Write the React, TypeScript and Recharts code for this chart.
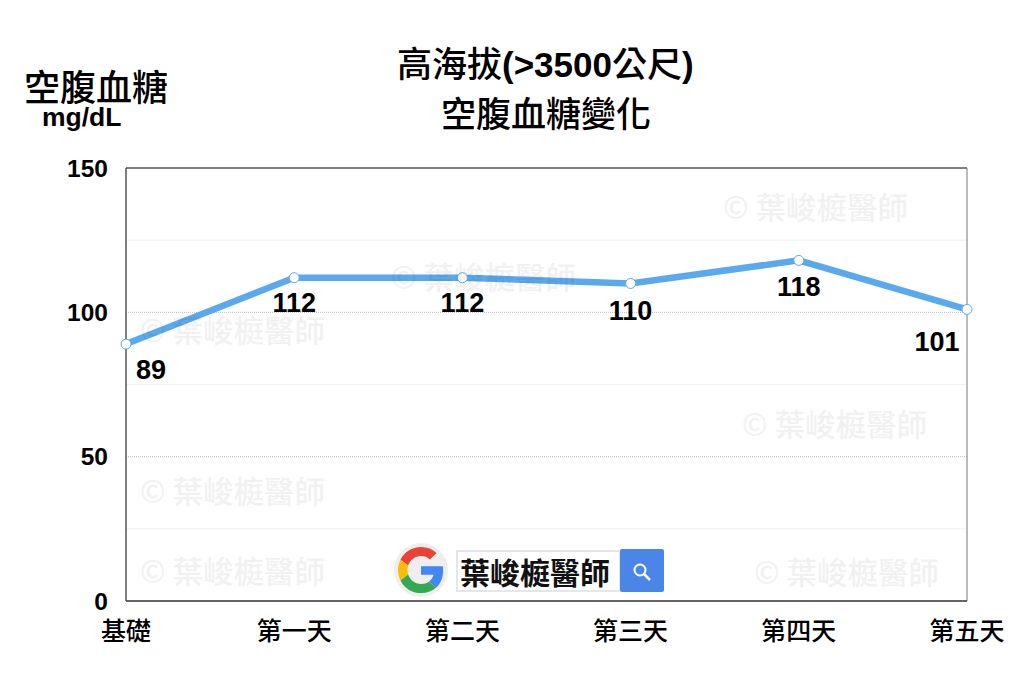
import React from "react";
import { LineChart, Line, XAxis, YAxis, ReferenceLine, LabelList } from "recharts";

const categories = ["基礎", "第一天", "第二天", "第三天", "第四天", "第五天"];
const glucose = [89, 112, 112, 110, 118, 101];
const yTicks = [0, 50, 100, 150];
const dottedLines = [50, 100];
const faintLines = [25, 75, 125];
const labelDx = [25, 0, 0, 0, 0, -30];
const labelDy = [25, 25, 25, 27, 26, 32];
const watermarks: [number, number][] = [
  [723, 191], [391, 261], [140, 314], [742, 408], [140, 475], [140, 555], [754, 556],
];
const watermarkText = "© 葉峻榳醫師";
const titleParts = ["高海拔", "(>3500", "公尺", ")"];
const titleLine2 = "空腹血糖變化";
const yTitle = "空腹血糖";
const yUnit = "mg/dL";
const searchText = "葉峻榳醫師";

const rows = categories.map((name, i) => ({ name, value: glucose[i] }));
const CJK = '"Noto Sans CJK TC", "Noto Sans", sans-serif';
const LATIN = '"Liberation Sans", Arial, sans-serif';

const abs = (left: number, top: number, extra: React.CSSProperties = {}): React.CSSProperties => ({
  position: "absolute", left, top, whiteSpace: "nowrap", lineHeight: 1, ...extra,
});

function PointLabel(props: any) {
  const { x, y, index, value } = props;
  return (
    <text x={x + labelDx[index]} y={y + labelDy[index]} dy="0.36em" textAnchor="middle"
      fontFamily={LATIN} fontWeight={700} fontSize={27} fill="#000">{value}</text>
  );
}

function CatTick(props: any) {
  const { x, y, payload } = props;
  return (
    <text x={x} y={y} dy="0.36em" textAnchor="middle" fontFamily={CJK} fontWeight={500} fontSize={25} fill="#000">
      {payload.value}
    </text>
  );
}

function GoogleBadge() {
  return (
    <svg width={56} height={56} viewBox="0 0 56 56" style={{ position: "absolute", left: 393, top: 542 }}>
      <circle cx="28" cy="28" r="27" fill="#eeeeee" />
      <g transform="translate(5 5) scale(0.96)">
        <path fill="#EA4335" d="M24 9.5c3.5 0 6.7 1.2 9.2 3.6l6.9-6.9C35.9 2.4 30.5 0 24 0 14.6 0 6.5 5.4 2.6 13.2l8 6.2C12.5 13.6 17.800 9.500 24 9.500z" />
        <path fill="#4285F4" d="M47 24.500c0-1.600-.1-3.100-.4-4.500H24v9h12.900c-.6 3-2.200 5.500-4.700 7.200l7.700 6c4.500-4.200 7.100-10.300 7.100-17.700z" />
        <path fill="#FBBC05" d="M10.600 28.600C10.100 27.200 9.800 25.600 9.800 24s.3-3.200.8-4.600l-8-6.200C.9 16.400 0 20.100 0 24s.9 7.600 2.600 10.800l8-6.200z" />
        <path fill="#34A853" d="M24 48c6.500 0 11.900-2.100 15.900-5.800l-7.700-6c-2.200 1.500-4.900 2.300-8.200 2.300-6.200 0-11.500-4.100-13.400-9.900l-8 6.200C6.500 42.600 14.600 48 24 48z" />
      </g>
    </svg>
  );
}

function SearchBox() {
  return (
    <>
      <div style={abs(456, 550, { width: 165, height: 42, boxSizing: "border-box", background: "#fff", border: "2px solid #e4e6ea" })} />
      <div style={abs(460, 556, { fontFamily: CJK, fontWeight: 700, fontSize: 30, color: "#111" })}>{searchText}</div>
      <div style={abs(620, 549, { width: 44, height: 43, background: "#4a86e8", borderRadius: 2 })} />
      <svg width={24} height={24} viewBox="0 0 24 24" style={{ position: "absolute", left: 630, top: 560 }}>
        <circle cx="10" cy="10" r="5.500" fill="none" stroke="#fff" strokeWidth="2" />
        <line x1="14" y1="14" x2="20" y2="20" stroke="#fff" strokeWidth="2.500" />
      </svg>
    </>
  );
}

export default function App() {
  return (
    <div style={{ position: "absolute", left: 0, top: 0, width: 1024, height: 693, background: "#fff", overflow: "hidden" }}>
      <LineChart width={1024} height={693} data={rows} margin={{ top: 168, left: 0, right: 57, bottom: 0 }}>
        <XAxis dataKey="name" scale="point" padding={{ left: 0, right: 0 }} interval={0} tick={<CatTick />}
          tickLine={false} axisLine={{ stroke: "#333", strokeWidth: 1.5 }} tickMargin={24} height={92} />
        <YAxis domain={[0, 150]} ticks={yTicks} width={126} tickLine={false} tickMargin={12}
          axisLine={{ stroke: "#555", strokeWidth: 1.500 }}
          tick={{ fontFamily: LATIN, fontWeight: 700, fontSize: 24.500, fill: "#000" }} />
        {faintLines.map((v) => <ReferenceLine key={v} y={v} stroke="#f0f0f0" strokeWidth={1} />)}
        {dottedLines.map((v) => <ReferenceLine key={v} y={v} stroke="#bdbdbd" strokeWidth={1} strokeDasharray="1 1" />)}
        <ReferenceLine y={150} stroke="#555" strokeWidth={1.500} />
        <ReferenceLine x={categories[categories.length - 1]} stroke="#777" strokeWidth={1} />
        <Line dataKey="value" stroke="#5aa9ee" strokeWidth={6.500} isAnimationActive={false} dot={{ r: 5, fill: "#fff", stroke: "#5aa9ee", strokeWidth: 1 }} activeDot={false}>
          <LabelList dataKey="value" content={<PointLabel />} />
        </Line>
      </LineChart>

      {watermarks.map(([x, y]) => (
        <div key={`${x}-${y}`} style={abs(x, y, { fontFamily: CJK, fontWeight: 500, fontSize: 30.500, color: "#000", opacity: 0.05 })}>{watermarkText}</div>
      ))}

      <div style={abs(397, 44, { fontFamily: CJK, fontWeight: 500, fontSize: 35, color: "#000" })}>
        {titleParts[0]}<span style={{ fontFamily: LATIN, fontWeight: 700 }}>{titleParts[1]}</span>{titleParts[2]}<span style={{ fontFamily: LATIN, fontWeight: 700 }}>{titleParts[3]}</span>
      </div>
      <div style={abs(441, 94, { fontFamily: CJK, fontWeight: 500, fontSize: 35, color: "#000" })}>{titleLine2}</div>
      <div style={abs(24, 67, { fontFamily: CJK, fontWeight: 500, fontSize: 36, color: "#000" })}>{yTitle}</div>
      <div style={abs(42, 104, { fontFamily: LATIN, fontWeight: 700, fontSize: 26.500, color: "#000" })}>{yUnit}</div>

      <GoogleBadge />
      <SearchBox />
    </div>
  );
}
